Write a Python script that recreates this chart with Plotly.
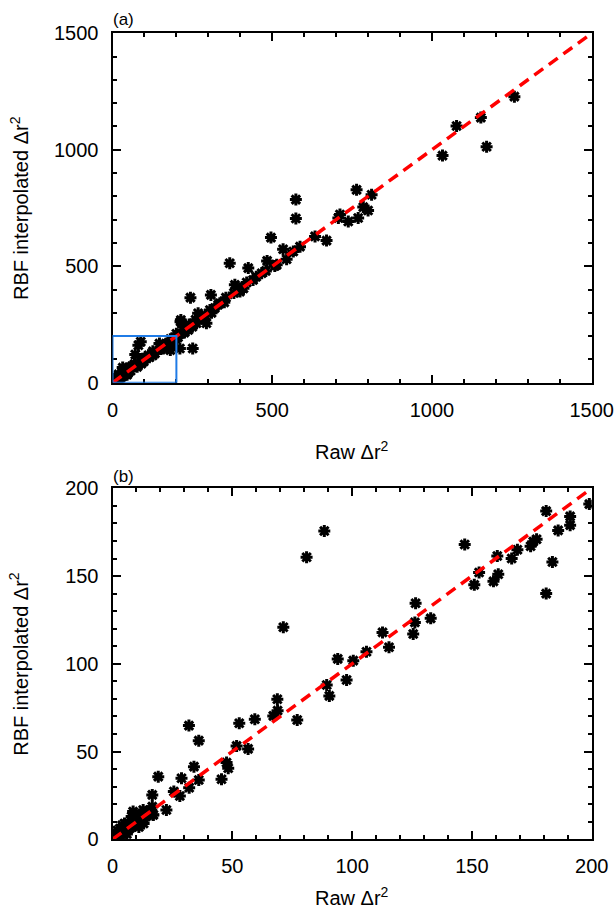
import plotly.graph_objects as go

# ---- data: raw vs RBF-interpolated displacement ----
raw_large = [1258, 1153, 1077, 1171, 1033,
             764, 811, 574, 574, 785, 800, 712, 707, 738, 769,
             634, 670, 587, 566, 534, 545, 508, 496, 484, 514,
             467, 440, 425, 367, 383, 399, 399, 355, 308, 305, 331, 336, 244,
             268, 294, 284, 263, 214, 221, 237, 251, 211, 216, 213,
             420, 450, 480, 310, 320, 230, 250, 260, 205, 225, 380, 410, 350, 290, 275, 240, 200]
rbf_large = [1228, 1138, 1102, 1013, 975,
             828, 807, 786, 705, 754, 739, 722, 707, 692, 707,
             628, 610, 584, 563, 573, 530, 501, 623, 523, 506,
             470, 441, 492, 513, 420, 406, 391, 365, 377, 312, 335, 341, 365,
             298, 255, 276, 255, 269, 241, 226, 147, 147, 212, 262,
             430, 455, 480, 300, 320, 230, 240, 270, 195, 215, 385, 405, 345, 290, 280, 250, 210]

raw_small = [199, 181, 191, 191, 186, 177, 175.6, 174.5, 169, 166.6, 160.6, 147, 183.6, 153, 161, 159, 151, 181,
             126.5, 126.2, 132.8, 125.5, 112.7, 115.4, 106, 100.5, 94, 97.7, 89.4, 90.5, 88.4, 81, 71.3,
             68.8, 68.9, 67.1, 77.1, 59.4, 52.9, 51.8, 56.6, 47.6, 48.3, 45.5,
             31.9, 36, 34, 36, 32, 28.8, 28.1, 25.6, 19.1, 16.6, 22.5, 16.6, 17, 12.8, 8.6,
             0.5, 1, 1, 1.5, 2, 2, 2.5, 3, 3, 3.5, 4, 4, 4.5, 5, 5, 5.5, 6, 6, 6.5, 7, 7, 7.5,
             8, 8, 8.5, 9, 9, 9.5, 10, 10, 10.5, 11, 11, 12, 12, 13, 13, 14, 14, 15, 15,
             3, 5, 8, 11, 13, 2, 6, 16, 17, 4]
rbf_small = [191, 187, 184, 179, 176, 171, 169.6, 167, 165, 160, 161.4, 168, 158, 152, 151, 147, 145, 140,
             134.5, 123.6, 125.9, 117, 117.9, 109.4, 106.9, 101.8, 102.8, 90.8, 87.9, 81.7, 175.7, 160.7, 120.8,
             79.8, 73.3, 70.3, 68, 68.4, 66.1, 53.2, 51.5, 43.7, 40.5, 34.2,
             64.8, 56.2, 41.4, 33.8, 29.4, 34.8, 24.7, 27.2, 35.7, 25.3, 16.7, 18.6, 13.9, 16.7, 15.8,
             1, 0.5, 2, 1, 3, 1, 2, 4, 2, 3, 5, 3, 4, 6, 4, 5, 7, 5, 8, 6, 9, 7,
             10, 7, 9, 8, 11, 10, 12, 9, 11, 10, 13, 12, 11, 14, 12, 13, 15, 14, 16,
             6, 9, 13, 7, 9, 5, 3, 15, 14, 8]

raw_all = raw_large + raw_small
rbf_all = rbf_large + rbf_small

line_a = [0, 1500]
line_b = [0, 200]
box_a = [0, 200]

W, H = 616, 914
px_l, px_r = 112.5, 591.7
top_a, bot_a = 33.3, 382.7
top_b, bot_b = 488.3, 839.3

def fx(p):
    return p / W

def fy(p):
    return 1 - p / H

FONT = "Arial, Liberation Sans, sans-serif"

fig = go.Figure()

marker = dict(symbol="asterisk-open", size=10, color="black",
              line=dict(color="black", width=3))

fig.add_trace(go.Scatter(x=raw_all, y=rbf_all, mode="markers", marker=marker,
                         xaxis="x", yaxis="y", showlegend=False, hoverinfo="skip"))
fig.add_trace(go.Scatter(x=line_a, y=line_a, mode="lines",
                         line=dict(color="#ff0000", width=3.5, dash="11px,7px"),
                         xaxis="x", yaxis="y", showlegend=False, hoverinfo="skip"))
fig.add_trace(go.Scatter(x=raw_all, y=rbf_all, mode="markers", marker=marker,
                         xaxis="x2", yaxis="y2", showlegend=False, hoverinfo="skip"))
fig.add_trace(go.Scatter(x=line_b, y=line_b, mode="lines",
                         line=dict(color="#ff0000", width=3.5, dash="11px,7px"),
                         xaxis="x2", yaxis="y2", showlegend=False, hoverinfo="skip"))

fig.add_shape(type="rect", xref="x", yref="y", x0=box_a[0], x1=box_a[1],
              y0=box_a[0], y1=box_a[1], line=dict(color="#1f7be6", width=2))

def ax(rng, dt, mdt, domain, anchor):
    return dict(range=rng, dtick=dt, tick0=0, domain=domain, anchor=anchor,
                showline=True, linecolor="black", linewidth=2, mirror="allticks",
                ticks="inside", ticklen=8, tickwidth=1.5, tickcolor="black",
                minor=dict(ticks="inside", dtick=mdt, tick0=0, ticklen=4,
                           tickwidth=1.5, tickcolor="black"),
                showgrid=False, zeroline=False, automargin=False,
                tickfont=dict(family=FONT, size=20, color="black"),
                ticklabelstandoff=8, ticklabeloverflow="allow")

xdom = [fx(px_l), fx(px_r)]
fig.update_layout(
    width=W, height=H,
    margin=dict(l=0, r=0, t=0, b=0),
    paper_bgcolor="white", plot_bgcolor="white",
    xaxis=ax([0, 1500], 500, 100, xdom, "y"),
    yaxis=ax([0, 1500], 500, 100, [fy(bot_a), fy(top_a)], "x"),
    xaxis2=ax([0, 200], 50, 10, xdom, "y2"),
    yaxis2=ax([0, 200], 50, 10, [fy(bot_b), fy(top_b)], "x2"),
)

ann = []
for ycen_t, ycen_y, lab, ylab in [(450, (top_a + bot_a) / 2, "(a)", 19),
                                  (896, (top_b + bot_b) / 2, "(b)", 476)]:
    ann.append(dict(text="Raw Δr<sup>2</sup>", x=fx((px_l + px_r) / 2), y=fy(ycen_t),
                    xref="paper", yref="paper", showarrow=False,
                    font=dict(family=FONT, size=20, color="black"),
                    xanchor="center", yanchor="middle"))
    ann.append(dict(text="RBF interpolated Δr<sup>2</sup>", x=fx(19), y=fy(ycen_y),
                    xref="paper", yref="paper", showarrow=False, textangle=-90,
                    font=dict(family=FONT, size=20, color="black"),
                    xanchor="center", yanchor="middle"))
    ann.append(dict(text=lab, x=fx(111), y=fy(ylab), xref="paper", yref="paper",
                    showarrow=False, font=dict(family=FONT, size=17, color="black"),
                    xanchor="left", yanchor="middle"))
fig.update_layout(annotations=ann)

fig.write_html("out.html", config={"displayModeBar": False},
               post_script="document.body.style.margin='0';document.body.style.overflow='hidden';")
